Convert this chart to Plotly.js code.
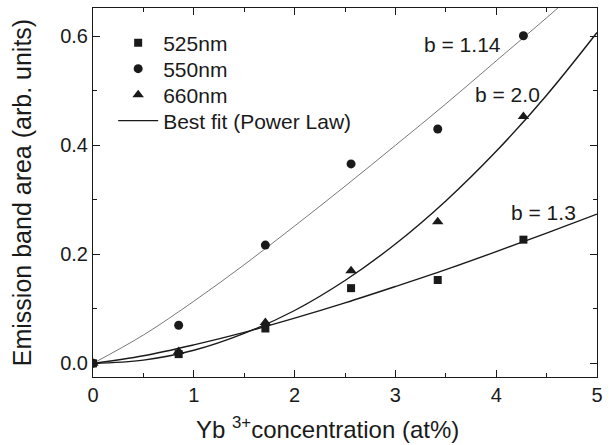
<!DOCTYPE html>
<html>
<head>
<meta charset="utf-8">
<script src="https://cdn.plot.ly/plotly-3.0.1.min.js"></script>
<style>html,body{margin:0;padding:0;background:#fff;}#chart{width:611px;height:445px;}</style>
</head>
<body>
<div id="chart"></div>
<script>
// Yb3+ concentration (at%)
const conc = [0, 0.85, 1.71, 2.56, 3.42, 4.27];
// Emission band areas (arb. units)
const area525 = [0, 0.017, 0.064, 0.138, 0.153, 0.227];
const area550 = [0, 0.070, 0.217, 0.366, 0.430, 0.601];
const area660 = [0, 0.022, 0.075, 0.170, 0.260, 0.453];
// Best-fit (power law) curves
const fitX = [0, 0.5, 1, 1.5, 2, 2.5, 3, 3.5, 4, 4.5, 5];
const fit114 = [0, 0.052, 0.114, 0.181, 0.252, 0.325, 0.400, 0.476, 0.555, 0.634, 0.715];
const fit20 = [0, 0.006, 0.024, 0.055, 0.097, 0.152, 0.219, 0.298, 0.389, 0.492, 0.607];
const fit13 = [0, 0.014, 0.034, 0.057, 0.083, 0.111, 0.141, 0.172, 0.205, 0.239, 0.274];
// Labels
const seriesNames = ['525nm', '550nm', '660nm', 'Best fit (Power Law)'];
const fitLabels = ['b = 1.14', 'b = 2.0', 'b = 1.3'];
const fitLabelX = [3.67, 4.11, 4.47];
const fitLabelY = [0.585, 0.494, 0.277];
const xTitle = 'Yb <sup>3+</sup>concentration (at%)';
const yTitle = 'Emission band area (arb. units)';

const FONT = 'Liberation Sans, Arial, sans-serif';
const INK = '#1a1a1a';

const traces = [
  {x: fitX, y: fit114, mode: 'lines', line: {color: '#555', width: 0.8, shape: 'spline'}, showlegend: false, hoverinfo: 'skip'},
  {x: fitX, y: fit20, mode: 'lines', line: {color: INK, width: 1.4, shape: 'spline'}, showlegend: false, hoverinfo: 'skip'},
  {x: fitX, y: fit13, mode: 'lines', name: seriesNames[3], line: {color: INK, width: 1.4, shape: 'spline'}, showlegend: true, legend: 'legend4'},
  {x: conc, y: area525, mode: 'markers', name: seriesNames[0], marker: {symbol: 'square', size: 8, color: INK}, legend: 'legend'},
  {x: conc, y: area550, mode: 'markers', name: seriesNames[1], marker: {symbol: 'circle', size: 9, color: INK}, legend: 'legend2'},
  {x: conc, y: area660, mode: 'markers', name: seriesNames[2], marker: {symbol: 'triangle-up', size: 10, color: INK}, legend: 'legend3'}
];

const annotations = fitLabels.map((t, i) => ({
  x: fitLabelX[i], y: fitLabelY[i], xref: 'x', yref: 'y', text: t, showarrow: false,
  font: {family: FONT, size: 21, color: INK}
}));
// x-axis title, drawn as an annotation so it can sit slightly left of centre as in the reference
annotations.push({
  x: 0.466, y: -0.184, xref: 'paper', yref: 'paper', xanchor: 'center', yanchor: 'bottom',
  text: xTitle, showarrow: false, font: {family: FONT, size: 24, color: INK}
});

function legendAt(py) {
  // py: pixel row of the item centre; plot area spans rows 8..377
  return {x: 0.04, y: (376 - py) / 369, xanchor: 'left', yanchor: 'middle', bgcolor: 'rgba(0,0,0,0)',
          font: {family: FONT, size: 21, color: INK}, itemwidth: 40};
}

const layout = {
  width: 611, height: 445,
  margin: {l: 93, r: 14, t: 8, b: 68},
  paper_bgcolor: '#fff', plot_bgcolor: '#fff',
  font: {family: FONT, size: 20, color: INK},
  showlegend: true,
  legend: legendAt(42),
  legend2: legendAt(68),
  legend3: legendAt(94),
  legend4: legendAt(120),
  xaxis: {
    range: [0, 5], dtick: 1, tick0: 0, ticks: 'inside', ticklen: 7, tickwidth: 1, tickcolor: INK,
    showline: true, linecolor: INK, linewidth: 1, mirror: 'ticks', showgrid: false, zeroline: false,
    minor: {dtick: 0.5, ticks: 'inside', ticklen: 4, tickcolor: INK, showgrid: false},
    tickfont: {family: FONT, size: 20, color: INK}
  },
  yaxis: {
    range: [-0.025, 0.652], dtick: 0.2, tick0: 0, tickformat: '.1f', ticks: 'inside', ticklen: 7, tickwidth: 1, tickcolor: INK,
    showline: true, linecolor: INK, linewidth: 1, mirror: 'ticks', showgrid: false, zeroline: false,
    minor: {dtick: 0.1, ticks: 'inside', ticklen: 4, tickcolor: INK, showgrid: false},
    tickfont: {family: FONT, size: 20, color: INK},
    title: {text: yTitle, font: {family: FONT, size: 25, color: INK}, standoff: 21}
  },
  annotations: annotations
};

Plotly.newPlot('chart', traces, layout, {displayModeBar: false, staticPlot: true});
</script>
</body>
</html>
